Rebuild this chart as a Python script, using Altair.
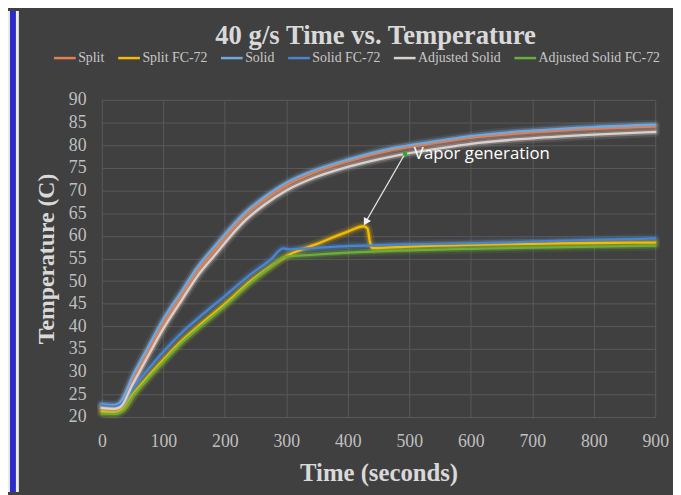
import math
import altair as alt
import pandas as pd

series = ["Split", "Split FC-72", "Solid", "Solid FC-72", "Adjusted Solid", "Adjusted Solid FC-72"]
colors = ["#e27f50", "#f4bb00", "#6fa9e0", "#4a86d0", "#d9d1cc", "#6cae3a"]

# Upper curves
solid_t = [0, 20, 30, 50, 75, 100, 130, 155, 185, 210, 235, 265, 300, 345, 400, 475, 550, 600, 700, 800, 900]
solid_v = [22.8, 22.6, 23.2, 29.0, 35.4, 41.6, 47.8, 53.0, 57.9, 61.9, 65.4, 68.6, 71.7, 74.4, 76.8, 79.4, 81.0, 82.0, 83.2, 84.0, 84.5]
split_t = [0, 20, 30, 50, 75, 100, 130, 155, 185, 210, 235, 265, 300, 345, 400, 475, 550, 600, 700, 800, 900]
split_v = [22.3, 22.1, 22.6, 28.0, 34.4, 40.6, 46.9, 52.2, 57.1, 61.2, 64.8, 68.0, 71.1, 73.9, 76.4, 79.0, 80.6, 81.6, 82.8, 83.6, 84.1]
adj_t = [0, 20, 30, 50, 75, 100, 130, 155, 185, 210, 235, 265, 300, 345, 400, 475, 550, 600, 700, 800, 900]
adj_v = [22.0, 21.8, 22.2, 27.2, 33.4, 39.5, 45.8, 51.0, 55.9, 60.0, 63.6, 66.9, 70.0, 72.8, 75.2, 77.6, 79.3, 80.3, 81.5, 82.3, 82.9]

# Lower (FC-72) curves
sfc_t = [0, 20, 30, 50, 75, 100, 130, 155, 200, 245, 275, 295, 305, 320, 400, 500, 600, 700, 800, 900]
sfc_v = [22.6, 22.4, 22.8, 26.3, 30.5, 34.4, 38.6, 41.6, 46.7, 51.8, 54.8, 57.2, 57.0, 57.1, 57.7, 58.1, 58.3, 58.7, 59.1, 59.4]
afc_t = [0, 20, 35, 50, 75, 100, 130, 155, 200, 245, 275, 300, 320, 400, 500, 600, 700, 800, 900]
afc_v = [20.8, 20.7, 21.5, 24.5, 28.5, 32.2, 36.4, 39.4, 44.5, 50.0, 53.1, 55.4, 55.6, 56.3, 56.8, 57.1, 57.4, 57.6, 57.8]
spfc_t = [0, 20, 35, 50, 75, 100, 130, 155, 200, 245, 275, 300, 350, 400, 426, 432, 436, 440, 450, 500, 600, 700, 800, 900]
spfc_v = [21.2, 21.0, 21.8, 24.8, 28.9, 32.6, 36.8, 39.8, 44.9, 50.3, 53.3, 55.5, 58.2, 60.9, 62.1, 61.6, 58.6, 57.3, 57.3, 57.6, 58.0, 58.2, 58.4, 58.5]

x_ticks = list(range(0, 901, 100))
y_ticks = list(range(20, 91, 5))

anno_label = "Vapor generation"
anno_start = (493, 78.1)
anno_tip = (426, 62.3)

rows = []
for name, ts, vs in [
    ("Split", split_t, split_v),
    ("Split FC-72", spfc_t, spfc_v),
    ("Solid", solid_t, solid_v),
    ("Solid FC-72", sfc_t, sfc_v),
    ("Adjusted Solid", adj_t, adj_v),
    ("Adjusted Solid FC-72", afc_t, afc_v),
]:
    for t, v in zip(ts, vs):
        rows.append({"series": name, "time": t, "temp": v})
df = pd.DataFrame(rows)

W, H = 560, 321
SERIF = "Liberation Serif"

x_axis = alt.Axis(
    values=x_ticks, title="Time (seconds)", labelFont=SERIF, labelFontSize=18,
    labelColor="#bfbfbf", labelPadding=16, labelFlush=False, labelOverlap=False,
    ticks=False, domain=False, grid=True, gridColor="#595959", gridWidth=1,
    titleFont=SERIF, titleFontSize=25, titleFontWeight="bold", titleColor="#d9d9d9",
    titlePadding=10,
)
y_axis = alt.Axis(
    values=y_ticks, title="Temperature (C)", labelFont=SERIF, labelFontSize=18,
    labelColor="#bfbfbf", labelPadding=16, labelFlush=False, labelOverlap=False,
    ticks=False, domain=False, grid=True, gridColor="#595959", gridWidth=1,
    titleFont=SERIF, titleFontSize=24, titleFontWeight="bold", titleColor="#d9d9d9",
    titlePadding=10,
)
x_scale = alt.Scale(domain=[0, 900], nice=False, zero=False)
y_scale = alt.Scale(domain=[20, 90], nice=False, zero=False)


def X(field):
    return alt.X(field, type="quantitative", scale=x_scale, axis=x_axis)


def Y(field):
    return alt.Y(field, type="quantitative", scale=y_scale, axis=y_axis)


legend = alt.Legend(
    orient="none", legendX=-50, legendY=-55, direction="horizontal", columns=6, title=None,
    symbolType="stroke", symbolSize=484, symbolStrokeWidth=2.5, symbolOpacity=1,
    labelFont=SERIF, labelFontSize=14, labelColor="#c8c8c8", labelOffset=1,
    columnPadding=8, padding=0,
)
c_enc = alt.Color("series:N", scale=alt.Scale(domain=series, range=colors), legend=legend)

base = alt.Chart(df).encode(x=X("time"), y=Y("temp"), color=c_enc)
glow1 = base.mark_line(strokeWidth=10, opacity=0.12, strokeCap="round", strokeJoin="round", interpolate="monotone")
glow2 = base.mark_line(strokeWidth=5.5, opacity=0.3, strokeCap="round", strokeJoin="round", interpolate="monotone")
core = base.mark_line(strokeWidth=2.3, strokeCap="round", strokeJoin="round", interpolate="monotone")

# decorative frame on the left edge
frame_data = alt.Data(values=[{"k": 1}])
light_strip = alt.Chart(frame_data).mark_rect(color="#ececec").encode(
    x=alt.value(-95), x2=alt.value(-84), y=alt.value(-90), y2=alt.value(H + 76)
)
blue_strip = alt.Chart(frame_data).mark_rect(color="#2b2bc8").encode(
    x=alt.value(-93), x2=alt.value(-87), y=alt.value(-90), y2=alt.value(H + 76)
)

# annotation
ppx = W / 900.0
ppy = H / 70.0
ddx = (anno_tip[0] - anno_start[0]) * ppx
ddy = -(anno_tip[1] - anno_start[1]) * ppy
ang = math.degrees(math.atan2(ddx, -ddy)) % 360
back = 0.06
head_t = anno_tip[0] + back * (anno_start[0] - anno_tip[0])
head_v = anno_tip[1] + back * (anno_start[1] - anno_tip[1])
anno_df = pd.DataFrame([{
    "time": anno_start[0], "temp": anno_start[1], "t1": head_t, "v1": head_v,
    "label": anno_label,
}])
arrow_line = alt.Chart(anno_df).mark_rule(color="#e6e6e6", strokeWidth=1.3).encode(
    x=X("time"), y=Y("temp"), x2="t1:Q", y2="v1:Q"
)
arrow_head = alt.Chart(anno_df).mark_point(
    shape="triangle", filled=True, color="#f2f2f2", size=70, angle=ang, opacity=1
).encode(x=X("t1"), y=Y("v1"))
dot = alt.Chart(anno_df).mark_point(filled=True, color="#22b222", size=22, opacity=1).encode(
    x=X("time"), y=Y("temp")
)
label = alt.Chart(anno_df).mark_text(
    align="left", baseline="middle", dx=9, font="Open Sans", fontSize=17, color="#ffffff"
).encode(x=X("time"), y=Y("temp"), text="label:N")

chart = alt.layer(
    light_strip, blue_strip, glow1, glow2, core, arrow_line, arrow_head, dot, label
).properties(
    width=W, height=H,
    background="#404040",
    autosize=alt.AutoSizeParams(type="none"),
    padding={"left": 95, "top": 90, "right": 18, "bottom": 76},
    title=alt.TitleParams(
        "40 g/s Time vs. Temperature", font=SERIF, fontSize=27, fontWeight="bold",
        color="#d9d9d9", anchor="middle", frame="group", dx=-3, offset=-40,
    ),
).configure_view(stroke=None)

chart.save("out.html", embed_options={"renderer": "svg", "actions": False})
